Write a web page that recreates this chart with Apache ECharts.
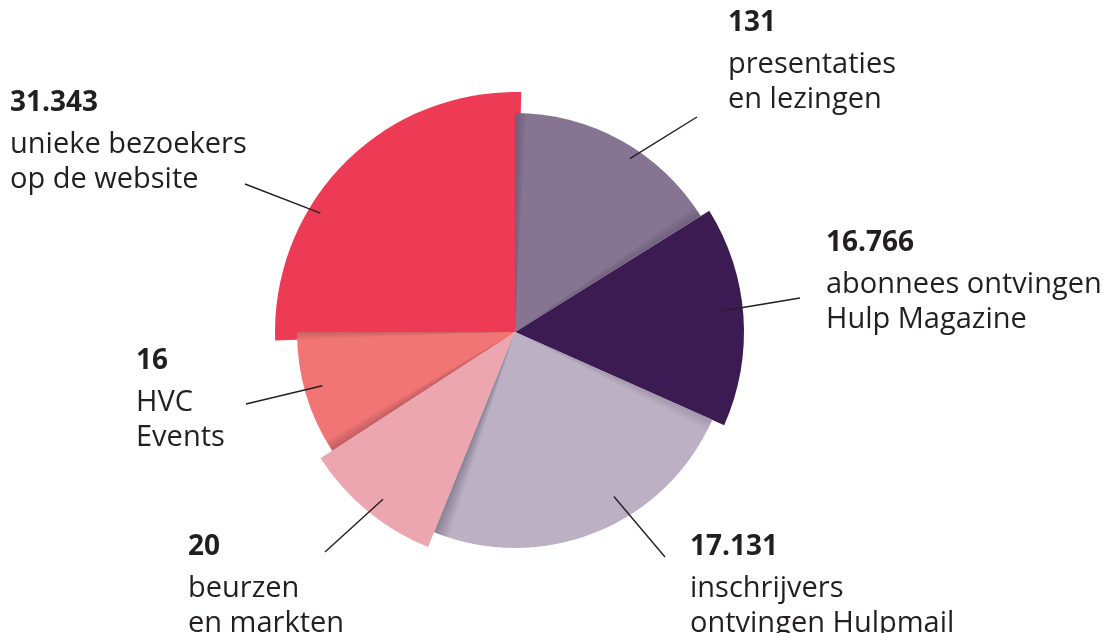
<!DOCTYPE html>
<html>
<head>
<meta charset="utf-8">
<title>Bereik</title>
<script src="https://cdn.jsdelivr.net/npm/echarts@6/dist/echarts.min.js"></script>
<style>
  html, body { margin: 0; padding: 0; background: #fff; }
  #chart { width: 1108px; height: 633px; }
</style>
</head>
<body>
<div id="chart"></div>
<script>
// slices, clockwise from 12 o'clock
const figures = ['131', '16.766', '17.131', '20', '16', '31.343']
const captions = [
  ['presentaties', 'en lezingen'],
  ['abonnees ontvingen', 'Hulp Magazine'],
  ['inschrijvers', 'ontvingen Hulpmail'],
  ['beurzen', 'en markten'],
  ['HVC', 'Events'],
  ['unieke bezoekers', 'op de website']
]
// angle where each slice starts / ends (degrees, clockwise from top)
const startDeg = [0, 58, 114, 202, 237, 268]
const endDeg = [58, 114, 202, 237, 270, 361.5]
// how far each slice reaches out
const reach = [219, 229, 216, 232, 218, 240]

const colors = ['#857593', '#3c1b53', '#bcb1c4', '#eba6b0', '#f17574', '#ee3b55']
// stacking order (higher is drawn on top)
const layer = [4, 2, 5, 3, 6, 1]
// fold shading: [edge, width in degrees, max opacity]
const folds = [
  [['start', 3, 0.22], ['end', 3, 0.2]],
  [],
  [['end', 4, 0.3], ['start', 3, 0.15]],
  [],
  [['start', 3, 0.22], ['end', 2, 0.18]],
  []
]
// leader line: [angle, inset from edge, outer x, outer y]
const leaders = [
  [33.5, 11, 697, 117],
  [84.2, 21, 800, 298],
  [149, 24, 665, 557],
  [218.3, 19, 325, 552],
  [254.4, 18, 246, 404],
  [301.4, 12, 245, 184]
]
// label box top-left
const labelPos = [
  [728, -1],
  [826, 219],
  [690, 523],
  [188, 523],
  [136, 337],
  [10, 79]
]

const chart = echarts.init(document.getElementById('chart'))

const toAngle = (cx, cy, p) => Math.atan2(p[1] - cy, p[0] - cx)

const renderItem = (params, api) => {
  const i = params.dataIndex
  const b0 = api.value(0)
  const b1 = api.value(1)
  const r = api.value(2)
  const cs = params.coordSys
  const cx = cs.cx
  const cy = cs.cy
  const pa = api.coord([r, b0])
  const pb = api.coord([r, b1])
  const rPx = Math.hypot(pa[0] - cx, pa[1] - cy)
  const a0 = toAngle(cx, cy, pa)
  let a1 = toAngle(cx, cy, pb)
  while (a1 <= a0) a1 += Math.PI * 2

  const children = [
    {
      type: 'sector',
      z2: layer[i] * 10,
      shape: { cx, cy, r0: 0, r: rPx, startAngle: a0, endAngle: a1, clockwise: true },
      style: { fill: colors[i] }
    }
  ]

  // shading along folded edges
  const steps = 8
  folds[i].forEach(([edge, w, op]) => {
    const wr = (w * Math.PI) / 180
    for (let k = 0; k < steps; k++) {
      let s, e
      if (edge === 'start') {
        s = a0 + (wr * k) / steps
        e = a0 + (wr * (k + 1)) / steps
      } else {
        s = a1 - (wr * (k + 1)) / steps
        e = a1 - (wr * k) / steps
      }
      children.push({
        type: 'sector',
        z2: layer[i] * 10 + 1,
        silent: true,
        shape: { cx, cy, r0: 0, r: rPx, startAngle: s, endAngle: e, clockwise: true },
        style: { fill: 'rgba(30,20,40,' + (op * (1 - k / steps)).toFixed(3) + ')' }
      })
    }
  })

  const ld = leaders[i]
  const inner = api.coord([r - ld[1], ld[0]])
  children.push({
    type: 'polyline',
    z2: 100,
    shape: { points: [inner, [ld[2], ld[3]]] },
    style: { stroke: '#231f20', lineWidth: 1.4, fill: null }
  })

  children.push({
    type: 'text',
    z2: 100,
    x: labelPos[i][0],
    y: labelPos[i][1],
    style: {
      text: '{n|' + figures[i] + '}\n' + captions[i].map((c) => '{t|' + c + '}').join('\n'),
      align: 'left',
      verticalAlign: 'top',
      rich: {
        n: { fontFamily: 'Open Sans', fontSize: 28, fontWeight: 'bold', lineHeight: 48, fill: '#231f20' },
        t: { fontFamily: 'Open Sans', fontSize: 29, lineHeight: 35, fill: '#231f20' }
      }
    }
  })

  return { type: 'group', children }
}

const option = {
  animation: false,
  polar: { center: [515, 332], radius: 240 },
  angleAxis: {
    type: 'value',
    min: 0,
    max: 360,
    startAngle: 90,
    clockwise: true,
    show: false
  },
  radiusAxis: { type: 'value', min: 0, max: 240, show: false },
  series: [
    {
      type: 'custom',
      coordinateSystem: 'polar',
      renderItem,
      encode: { radius: 2, angle: [0, 1] },
      data: figures.map((f, i) => [startDeg[i], endDeg[i], reach[i]])
    }
  ]
}
chart.setOption(option)

window.addEventListener('resize', function () {
  chart.resize()
})
</script>
</body>
</html>
